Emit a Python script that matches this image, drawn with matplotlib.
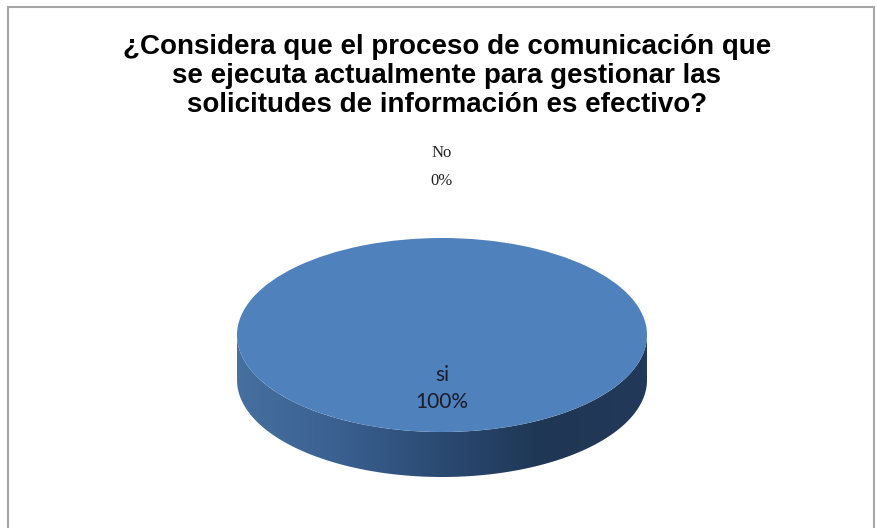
import numpy as np
import matplotlib
matplotlib.use("Agg")
import matplotlib.pyplot as plt
from matplotlib.patches import Polygon, Rectangle
from matplotlib.colors import LinearSegmentedColormap

# survey answers
answers = ["si", "No"]
counts = [100, 0]
title = ("¿Considera que el proceso de comunicación que\n"
         "se ejecuta actualmente para gestionar las\n"
         "solicitudes de información es efectivo?")

top_color = "#4f81bd"
side_cmap = LinearSegmentedColormap.from_list(
    "side", ["#46709f", "#3a6090", "#2a4a72", "#1f3654", "#22395a"])

W, H = 877, 528
fig = plt.figure(figsize=(W / 100, H / 100), dpi=100)

# outer frame of the chart area
fig.patches.append(Rectangle((8 / W, -0.05), 866 / W, 1.05 - 7 / H,
                             transform=fig.transFigure, fill=False,
                             edgecolor="#a6a6a6", linewidth=1.5))

fig.text(447 / W, 1 - 34 / H, title, ha="center", va="top",
         fontsize=20, fontweight="bold", family="Liberation Sans",
         linespacing=1.14)

ax = fig.add_axes([0, 0, 1, 1])
cx, cy, rx, ry = 442, 335, 205, 97   # top face centre / radii in px
depth = 45 / ry                        # thickness of the disc, data units

wedges, _ = ax.pie(counts, colors=[top_color, "#c0504d"], radius=1,
                   startangle=90, counterclock=False,
                   wedgeprops=dict(linewidth=0))
for w in wedges:
    w.set_zorder(3)

# side wall of the disc (front half), filled with a shaded gradient
t = np.linspace(np.pi, 2 * np.pi, 200)
top_x, top_y = np.cos(t), np.sin(t)
side = np.column_stack([np.r_[top_x, top_x[::-1]],
                        np.r_[top_y, top_y[::-1] - depth]])
wall = Polygon(side, closed=True, facecolor="none", edgecolor="none")
ax.add_patch(wall)
grad = np.linspace(0, 1, 256)[None, :]
img = ax.imshow(grad, cmap=side_cmap, aspect="auto",
                extent=[-1, 1, -1 - depth, 0.2], zorder=2)
img.set_clip_path(wall)

# slice labels from the values
total = sum(counts)
angle = 90.0
for name, val in zip(answers, counts):
    frac = val / total
    mid = np.deg2rad(angle - frac * 360 / 2)
    angle -= frac * 360
    text = f"{name}\n{frac * 100:.0f}%"
    if frac > 0.5:
        ax.text(0.55 * np.cos(mid), 0.55 * np.sin(mid), text, ha="center",
                va="center", fontsize=15, family="Lato", color="#1b1b2a",
                linespacing=1.4, zorder=5)
    else:
        ax.text(1.73 * np.cos(mid), 1.73 * np.sin(mid), text, ha="center",
                va="center", fontsize=12, family="Liberation Serif",
                color="#222222", linespacing=2.0, zorder=5)

ax.set_aspect("auto")
ax.set_xlim(-cx / rx, (W - cx) / rx)
ax.set_ylim(-(H - cy) / ry, cy / ry)
ax.axis("off")

fig.savefig("out.png", dpi=100, facecolor="white")
